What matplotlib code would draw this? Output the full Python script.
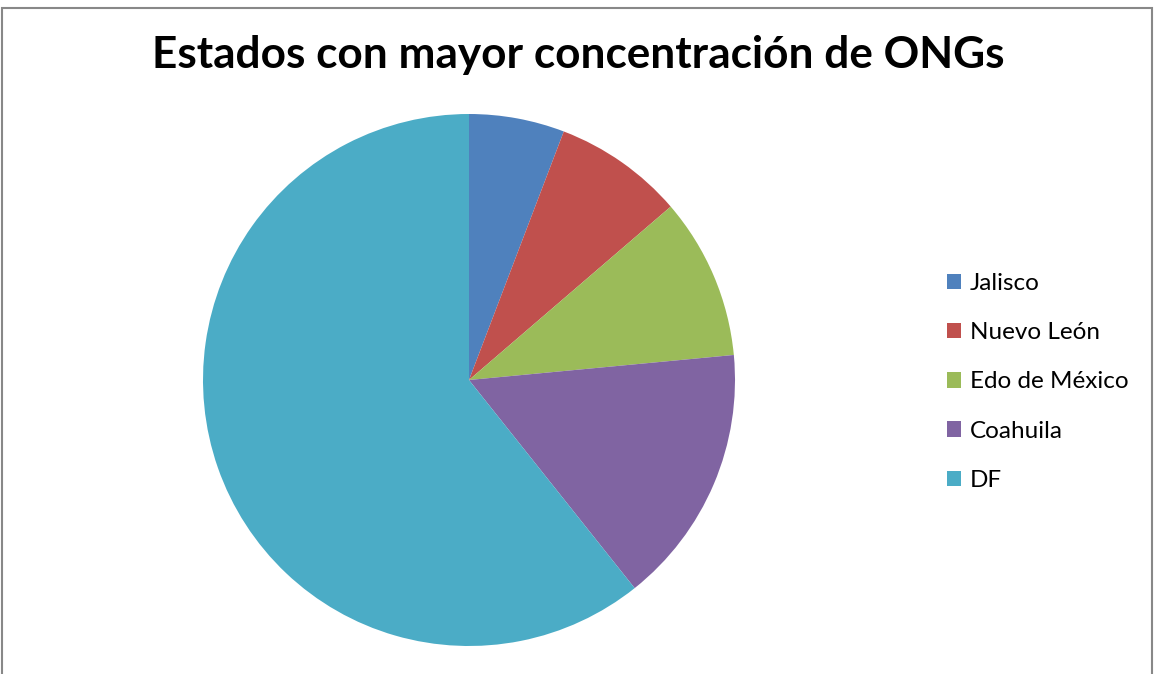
import matplotlib.pyplot as plt
from matplotlib.patches import Rectangle

labels = ['Jalisco', 'Nuevo León', 'Edo de México', 'Coahuila', 'DF']
values = [5.8, 7.9, 9.8, 15.8, 60.7]
colors = ['#4F81BD', '#C0504D', '#9BBB59', '#8064A2', '#4BACC6']
title = 'Estados con mayor concentración de ONGs'

W, H = 1155, 674
fig = plt.figure(figsize=(W / 100, H / 100), dpi=100)

# gray frame around the chart area
fig.patches.append(Rectangle((2 / W, -0.01), (W - 5) / W, 1 - 1 / H, transform=fig.transFigure,
                             fill=False, edgecolor='#888888', linewidth=1.5))

ax = fig.add_axes([(469 - 266) / W, (674 - 646) / H, 532 / W, 532 / H])
wedges, _ = ax.pie(values, colors=colors, startangle=90, counterclock=False,
                   radius=1, wedgeprops=dict(linewidth=0))
ax.set_xlim(-1, 1)
ax.set_ylim(-1, 1)
ax.set_aspect('equal')
ax.axis('off')

t = fig.text(578 / W, 1 - 55 / H, title, ha='center', va='center',
             fontsize=30, fontweight='bold', family='Lato')
fig.canvas.draw()
w = t.get_window_extent().width
t.set_fontsize(30 * 850 / w)

fig.legend(wedges, labels, loc='center left', bbox_to_anchor=(925 / W, 1 - 382 / H),
           frameon=False, prop={'family': 'Lato', 'size': 17.5},
           handlelength=0.6, handleheight=0.6, handletextpad=0.35, labelspacing=1.16)

plt.savefig('out.png', dpi=100)
